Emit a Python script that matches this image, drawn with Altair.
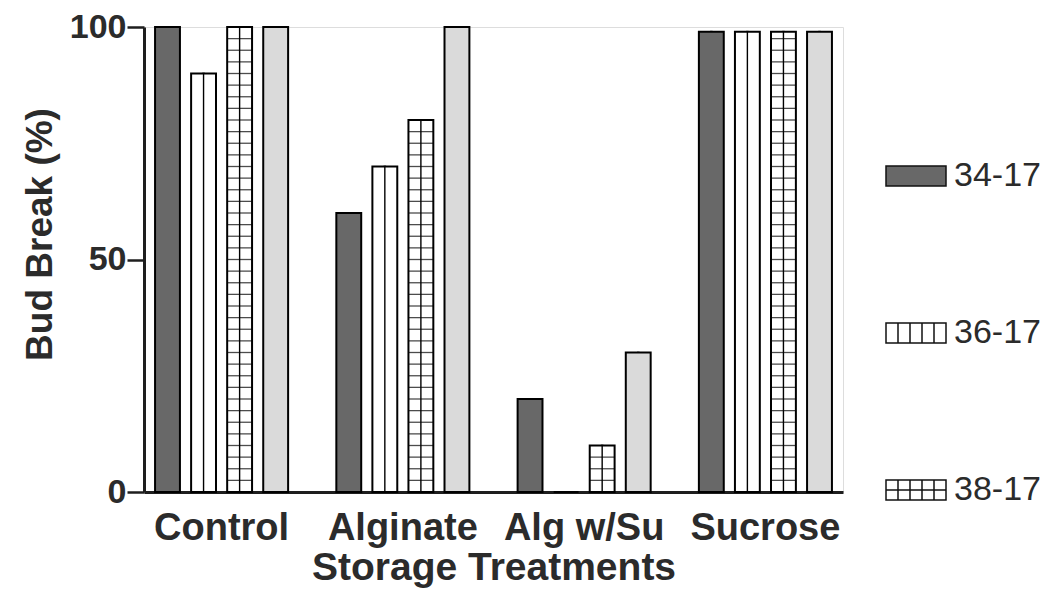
import altair as alt
import pandas as pd

# ---- data ----
groups = ["Control", "Alginate", "Alg w/Su", "Sucrose"]
series = ["34-17", "36-17", "38-17", "40-17"]
v_34_17 = [100, 60, 20, 99]
v_36_17 = [90, 70, 0, 99]
v_38_17 = [100, 80, 10, 99]
v_40_17 = [100, 100, 30, 99]
legend_labels = ["34-17", "36-17", "38-17"]

rows = []
for i, g in enumerate(groups):
    for s, vals in zip(series, [v_34_17, v_36_17, v_38_17, v_40_17]):
        rows.append({"group": g, "series": s, "value": vals[i], "zero": 0})
df = pd.DataFrame(rows)

# grid-pattern decoration levels for the 38-17 bars (pattern spacing)
grid_step = 2.5
hrows = []
for g, v in zip(groups, v_38_17):
    lvl = grid_step
    while lvl < v - 0.5:
        hrows.append({"group": g, "series": "38-17", "level": lvl})
        lvl += grid_step
hdf = pd.DataFrame(hrows)

FONT = "Liberation Sans"
TXT = "#2b2b2b"

fills = ["#686868", "#ffffff", "#ffffff", "#dadada"]
rect = "M-1,-0.333H1V0.333H-1Z"
vlines = "M-0.6,-0.333V0.333M-0.2,-0.333V0.333M0.2,-0.333V0.333M0.6,-0.333V0.333"
shapes = [rect, rect + vlines, rect + vlines + "M-1,0H1", rect]

x_scale = alt.Scale(domain=groups, paddingInner=0.266, paddingOuter=0.061)
xo_scale = alt.Scale(domain=series, paddingInner=0.31, paddingOuter=0)
y_scale = alt.Scale(domain=[0, 100], nice=False)

x_axis = alt.Axis(
    title="Storage Treatments", labelAngle=0, ticks=False,
    domainWidth=3, domainColor="#1e1e1e",
    labelFont=FONT, labelFontWeight="bold", labelFontSize=38, labelColor=TXT,
    labelPadding=17, titleFont=FONT, titleFontWeight="bold", titleFontSize=39,
    titleColor=TXT, titlePadding=1,
)
y_axis = alt.Axis(
    title="Bud Break (%)", values=[0, 50, 100], grid=False,
    tickSize=17, tickWidth=2.5, tickColor="#1e1e1e",
    domainWidth=3, domainColor="#1e1e1e",
    labelFont=FONT, labelFontWeight="bold", labelFontSize=34, labelColor=TXT,
    labelPadding=1, titleFont=FONT, titleFontWeight="bold", titleFontSize=37,
    titleColor=TXT, titlePadding=10, titleY=207,
)

legend = alt.Legend(
    title=None, values=legend_labels, orient="none", legendX=741, legendY=118,
    symbolSize=3600, symbolStrokeColor="black", symbolStrokeWidth=1.5,
    symbolOpacity=1,
    labelFont=FONT, labelFontSize=34, labelColor=TXT, labelOffset=7,
    rowPadding=109, padding=0,
)

X = alt.X("group:N", sort=groups, scale=x_scale, axis=x_axis)
XO = alt.XOffset("series:N", sort=series, scale=xo_scale)
FILL = alt.Fill("series:N", scale=alt.Scale(domain=series, range=fills), legend=legend)

base = alt.Chart(df)

# tiny points hidden behind the bars; they only carry the legend's shapes
legend_pts = base.mark_point(filled=True, size=1, strokeWidth=1.5).encode(
    x=X, xOffset=XO,
    y=alt.Y("value:Q", scale=y_scale, axis=y_axis),
    fill=FILL,
    stroke=alt.Stroke("series:N", scale=alt.Scale(domain=series, range=["#111111"] * 4), legend=legend),
    shape=alt.Shape("series:N", scale=alt.Scale(domain=series, range=shapes), legend=legend),
)

bars = base.mark_bar(stroke="black", strokeWidth=2).encode(
    x=X, xOffset=XO,
    y=alt.Y("value:Q", scale=y_scale, axis=y_axis),
    fill=FILL,
)

center_lines = base.transform_filter(
    alt.FieldOneOfPredicate(field="series", oneOf=["36-17", "38-17"])
).transform_filter("datum.value > 0").mark_rule(color="black", strokeWidth=1.4).encode(
    x=X, xOffset=XO,
    y=alt.Y("zero:Q", scale=y_scale, axis=y_axis),
    y2="value:Q",
)

grid_lines = alt.Chart(hdf).mark_tick(color="black", thickness=1.3, size=25, orient="horizontal").encode(
    x=X, xOffset=XO,
    y=alt.Y("level:Q", scale=y_scale, axis=y_axis),
)

chart = alt.layer(legend_pts, bars, center_lines, grid_lines).properties(
    width=699, height=465,
    autosize=alt.AutoSizeParams(type="none"),
    padding={"left": 136, "top": 19, "right": 200, "bottom": 102},
).configure_view(stroke=None).configure(font=FONT)

chart.save("out.html", embed_options={"renderer": "svg", "actions": False})
